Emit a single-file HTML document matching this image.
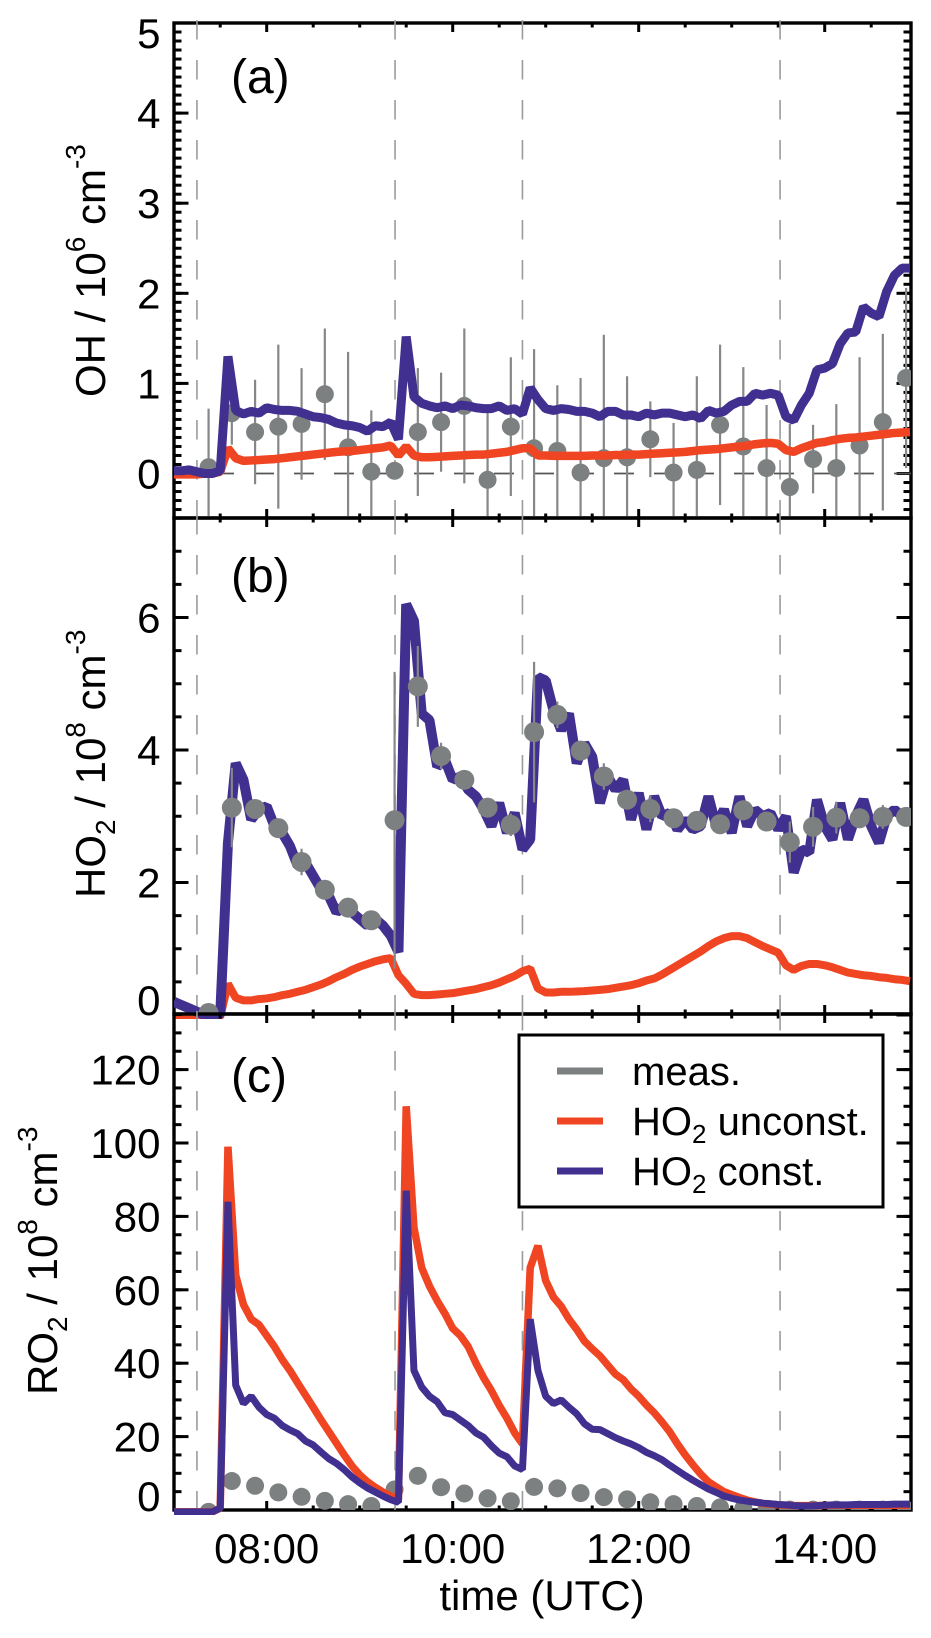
<!DOCTYPE html>
<html lang="en">
<head>
<meta charset="utf-8">
<title>OH, HO2 and RO2 time series</title>
<style>
html,body{margin:0;padding:0;background:#fff;}
svg{display:block;font-family:"Liberation Sans",Arial,sans-serif;}
</style>
</head>
<body>
<svg id="chart" xmlns="http://www.w3.org/2000/svg" width="931" height="1638" viewBox="0 0 931 1638">
  <rect x="0" y="0" width="931" height="1638" fill="#fff"/>
  <defs>
    <clipPath id="dots-a"><rect x="174" y="23" width="737" height="495"/></clipPath>
    <clipPath id="dots-b"><rect x="174" y="518" width="737" height="496"/></clipPath>
    <clipPath id="dots-c"><rect x="174" y="1014" width="737" height="496"/></clipPath>
    <clipPath id="lines-a"><rect x="174" y="23" width="737" height="495"/></clipPath>
    <clipPath id="lines-b"><rect x="174" y="518" width="737" height="501"/></clipPath>
    <clipPath id="lines-c"><rect x="174" y="1014" width="737" height="501"/></clipPath>
  </defs>
  <g id="layer-a"></g>
  <g id="layer-b"></g>
  <g id="layer-c"></g>

  <text x="231" y="93" font-size="48">(a)</text>
  <text x="231" y="592" font-size="48">(b)</text>
  <text x="231" y="1092" font-size="48">(c)</text>

  <text transform="translate(105 397) rotate(-90)" font-size="42">OH / 10<tspan font-size="28" dy="-20">6</tspan><tspan dy="20"> cm</tspan><tspan font-size="28" dy="-20">-3</tspan></text>
  <text transform="translate(105 898) rotate(-90)" font-size="42">HO<tspan font-size="28" dy="10">2</tspan><tspan dy="-10"> / 10</tspan><tspan font-size="28" dy="-20">8</tspan><tspan dy="20"> cm</tspan><tspan font-size="28" dy="-20">-3</tspan></text>
  <text transform="translate(57 1395) rotate(-90)" font-size="42">RO<tspan font-size="28" dy="10">2</tspan><tspan dy="-10"> / 10</tspan><tspan font-size="28" dy="-20">8</tspan><tspan dy="20"> cm</tspan><tspan font-size="28" dy="-20">-3</tspan></text>

  <text x="542" y="1610" font-size="42" text-anchor="middle">time (UTC)</text>

  <g>
    <rect x="519" y="1035" width="364" height="172" fill="#fff" stroke="#000" stroke-width="3"/>
    <line x1="557" x2="603" y1="1071" y2="1071" stroke="#7d8080" stroke-width="7"/>
    <text x="632" y="1085" font-size="40">meas.</text>
    <line x1="557" x2="603" y1="1121" y2="1121" stroke="#f04523" stroke-width="7"/>
    <text x="632" y="1135" font-size="40">HO<tspan font-size="26" dy="8">2</tspan><tspan dy="-8"> unconst.</tspan></text>
    <line x1="557" x2="603" y1="1171" y2="1171" stroke="#41308f" stroke-width="7"/>
    <text x="632" y="1185" font-size="40">HO<tspan font-size="26" dy="8">2</tspan><tspan dy="-8"> const.</tspan></text>
  </g>
</svg>
<script>
// ---- data ----
const modelStartHour = 7;
const modelStepHours = 1 / 12;
const measStartHour = 7.375;
const measStepHours = 0.25;
const flightLegHours = [7.25, 9.38, 10.75, 13.52];
const xTickHours = [8, 10, 12, 14];
const xTickLabels = ["08:00", "10:00", "12:00", "14:00"];
const xMinorHours = [7.5, 8, 8.5, 9, 9.5, 10, 10.5, 11, 11.5, 12, 12.5, 13, 13.5, 14, 14.5];

const aTickValues = [0, 1, 2, 3, 4, 5];
const bTickValues = [0, 2, 4, 6];
const cTickValues = [0, 20, 40, 60, 80, 100, 120];

const aMeas = [.07,.67,.46,.52,.55,.88,.29,.02,.03,.46,.57,.75,-.07,.52,.28,.25,.01,.17,.18,.38,.01,.04,.54,.30,.06,-.15,.16,.06,.31,.57,1.06];
const aErr = [.65,.35,.58,.91,.62,.73,1.06,.68,0,.71,.55,.86,.77,.77,1.1,.73,1.05,1.37,.9,.42,.55,1.04,.89,.88,.7,.7,.38,.71,.98,.98,1.0];
const bMeas = [.03,3.13,3.11,2.82,2.31,1.89,1.62,1.43,2.94,4.96,3.91,3.55,3.13,2.87,4.27,4.53,3.99,3.60,3.25,3.11,2.97,2.93,2.88,3.09,2.92,2.61,2.84,2.98,2.97,2.99,2.99];
const bErr = [.05,.6,.1,.1,.2,.1,.05,.1,2.24,.61,.2,.1,.1,.17,1.06,.2,.15,.2,.15,.2,.1,.12,.1,.15,.1,.31,.3,.24,.15,.18,.1];
const cMeas = [-.5,7.9,6.6,4.8,3.6,2.5,1.6,1.1,5.6,9.3,6.2,4.5,3.2,2.4,6.3,5.9,4.6,3.5,2.9,2.1,1.6,1.1,.7,.4,.2,.1,.1,.1,.1,.1,.1];

const aConst = [
  .03,.03,.04,.02,0,0,.03,1.3,.70,.66,.69,.67,
  .73,.71,.70,.70,.69,.66,.63,.62,.60,.56,.54,.53,
  .51,.47,.53,.52,.57,.38,1.52,.85,.78,.75,.73,.75,
  .72,.76,.75,.73,.72,.72,.75,.70,.72,.66,.95,.82,
  .72,.70,.72,.71,.69,.69,.67,.63,.69,.69,.65,.65,
  .63,.67,.65,.67,.67,.65,.63,.65,.61,.70,.67,.69,
  .76,.80,.80,.89,.87,.89,.87,.63,.59,.76,.89,1.15,
  1.17,1.22,1.44,1.56,1.57,1.85,1.78,1.74,2.02,2.20,2.28,2.28];
const aUnconst = [
  -.01,-.01,-.01,-.01,0,0,.02,.28,.17,.14,.145,.15,
  .155,.16,.17,.18,.19,.20,.21,.22,.23,.24,.245,.25,
  .26,.27,.28,.29,.31,.20,.30,.20,.18,.18,.185,.19,
  .195,.20,.205,.21,.21,.22,.23,.24,.26,.28,.28,.20,
  .20,.195,.195,.195,.195,.195,.20,.20,.20,.205,.205,.21,
  .21,.215,.22,.225,.23,.235,.24,.25,.26,.265,.27,.28,
  .29,.30,.31,.325,.335,.34,.33,.26,.24,.28,.31,.34,
  .35,.37,.385,.395,.40,.41,.42,.43,.44,.45,.455,.46];
const bConst = [
  .2,.15,.10,.05,0,0,0,2.6,3.8,3.55,2.95,3.1,
  3.15,2.85,2.75,2.55,2.25,2.3,2.1,1.9,1.8,1.55,1.65,1.55,
  1.45,1.35,1.45,1.35,1.2,.95,6.2,5.95,4.55,4.45,3.75,3.85,
  3.55,3.6,3.4,3.3,3.1,2.85,3.2,2.75,3.05,2.5,2.65,5.1,
  5.05,4.6,4.3,4.55,3.8,4.1,3.9,3.2,3.6,3.4,3.55,2.95,
  3.35,2.8,3.3,3.0,3.05,2.8,2.95,2.8,2.85,3.3,2.85,3.1,
  2.75,3.3,2.85,3.1,3.0,3.05,2.8,3.0,2.15,2.5,2.45,3.25,
  2.85,2.65,3.2,2.65,3.0,3.25,2.85,2.6,3.0,3.1,3.0,3.0];
const bUnconst = [
  -.03,-.03,-.03,-.03,-.03,-.03,-.03,.47,.26,.22,.22,.24,
  .25,.27,.30,.32,.35,.38,.42,.46,.51,.57,.62,.68,
  .73,.77,.81,.84,.86,.60,.47,.32,.30,.30,.31,.32,
  .33,.35,.37,.39,.42,.45,.49,.54,.59,.66,.70,.40,
  .34,.34,.35,.35,.355,.36,.37,.38,.39,.41,.43,.45,
  .48,.52,.55,.61,.68,.75,.82,.89,.96,1.04,1.11,1.16,
  1.19,1.19,1.16,1.10,1.04,.99,.94,.75,.68,.74,.77,.77,
  .75,.72,.68,.64,.62,.60,.59,.57,.56,.54,.53,.51];
const cUnconst = [
  -.5,-.5,-.5,-.5,-.5,-.5,.5,99,64,56,52,50.5,
  47.5,44.5,41,38,34.6,31.3,28,24.6,21.4,18.2,15,12,
  9.6,7.7,6.2,4.9,3.8,3,110,77,66,61,57,53.5,
  49.5,47.5,44.5,40,36,32.5,28.5,25,21,18,66,72,
  62.5,58,55.5,52,49.2,46,43.9,42,39.5,37,35.5,33,
  31,28.6,26.5,24,21.3,18,15,12.3,9.8,7.7,6.3,5,
  4.2,3.4,2.7,2.2,1.8,1.6,1.4,1.3,1.2,1.2,1.2,1.2,
  1.3,1.3,1.3,1.3,1.3,1.3,1.3,1.3,1.3,1.3,1.3,1.3];
const cConst = [
  -.5,-.5,-.5,-.5,-.5,-.5,.5,84,34,29,31,28,
  26,25,23,21.8,20.8,18.8,17.7,15.8,14,12.7,11,9,
  7.4,6,4.9,3.8,2.8,2.1,87,38,33.5,31,29.5,26.5,
  26,24.5,23,21,19.8,17.5,15.5,14.5,12,11,52,38,
  31,29,30,28,26.2,23.5,22,21.9,20.8,19.7,18.8,18,
  17,15.7,14.8,13.7,12.2,10.8,9.4,8.1,6.9,5.7,4.8,3.8,
  3.2,2.7,2.4,2.1,1.9,1.7,1.5,1.4,1.2,1.1,1.1,1.2,
  1.3,1.4,1.4,1.4,1.5,1.5,1.5,1.5,1.5,1.6,1.6,1.6];

// ---- axis functions ----
const NS = "http://www.w3.org/2000/svg";
const LEFT = 174, RIGHT = 911;
const BLUE = "#41308f", ORANGE = "#f04523", GRAY = "#7d8080";
function xScale(h) { return 266.7 + (h - 8) * 93; }
function yScaleA(v) { return 473.5 - v * 90.1; }
function yScaleB(v) { return 1015 - v * 66.25; }
function yScaleC(v) { return 1510 - v * 3.67; }
function modelHour(i) { return modelStartHour + i * modelStepHours; }
function measHour(i) { return measStartHour + i * measStepHours; }

function mk(parent, tag, attrs) {
  const el = document.createElementNS(NS, tag);
  for (const k in attrs) el.setAttribute(k, attrs[k]);
  parent.appendChild(el);
  return el;
}

function drawTickLine(g, x1, y1, x2, y2, w, name) {
  const el = mk(g, "line", { x1: x1, y1: y1, x2: x2, y2: y2, stroke: "#000", "stroke-width": w });
  
  
}

// Labels at the ends of an axis are pulled inside the panel so they do not collide with the next one.
function drawFrame(g, top, bottom, yFn, majors, minorStart, minorEnd, minorStep, prefix) {
  for (let n = 0; minorStart + n * minorStep <= minorEnd + 1e-6; n++) {
    const yy = yFn(minorStart + n * minorStep);
    if (yy < top || yy > bottom) continue;
    drawTickLine(g, LEFT, yy, LEFT + 7.5, yy, 3, prefix + "-y-minor-tick");
    drawTickLine(g, RIGHT, yy, RIGHT - 7.5, yy, 3, prefix + "-y-minor-tick-right");
  }
  majors.forEach(function (v) {
    const yy = yFn(v);
    drawTickLine(g, LEFT, yy, LEFT + 14.5, yy, 3, prefix + "-y-major-tick");
    drawTickLine(g, RIGHT, yy, RIGHT - 14.5, yy, 3, prefix + "-y-major-tick-right");
    const baseline = Math.min(Math.max(yy + 15, top + 25), bottom + 1);
    const label = mk(g, "text", { x: 160.5, y: baseline, "font-size": 42, "text-anchor": "end" });
    
    
    label.textContent = String(v);
  });
  xMinorHours.forEach(function (h) {
    const isMajor = xTickHours.indexOf(h) >= 0;
    const len = isMajor ? 9 : 4.5;
    const xx = xScale(h);
    drawTickLine(g, xx, top, xx, top + len, 3, prefix + "-x-tick-top");
    drawTickLine(g, xx, bottom, xx, bottom - len, 3, prefix + "-x-tick-bottom");
  });
  const frame = mk(g, "rect", { x: LEFT, y: top, width: RIGHT - LEFT, height: bottom - top, fill: "none", stroke: "#000", "stroke-width": 3.4 });
  
  
}

function drawLegLines(g, top, bottom, prefix) {
  flightLegHours.forEach(function (h) {
    const l = mk(g, "line", { x1: xScale(h), x2: xScale(h), y1: top - 3, y2: bottom, stroke: "#9a9c9c", "stroke-width": 1.6, "stroke-dasharray": "19.5 20.5" });
    
    
  });
}

function drawMeasurements(g, values, errors, yFn, radius, clipId, showBars, prefix) {
  const grp = mk(g, "g", { "clip-path": "url(#" + clipId + ")" });
  
  
  if (showBars) {
    values.forEach(function (v, i) {
      if (!errors[i]) return;
      const xx = xScale(measHour(i));
      const bar = mk(grp, "line", { x1: xx, x2: xx, y1: yFn(v - errors[i]), y2: yFn(v + errors[i]), stroke: "#858888", "stroke-width": 2.2 });
      
      
    });
  }
  values.forEach(function (v, i) {
    const dot = mk(grp, "circle", { cx: xScale(measHour(i)), cy: yFn(v), r: radius, fill: GRAY });
    
    
  });
}

function drawSeries(g, values, yFn, color, width, clipId, name) {
  const d = values.map(function (v, i) {
    return (i ? "L" : "M") + xScale(modelHour(i)).toFixed(2) + " " + yFn(v).toFixed(2);
  }).join(" ");
  const p = mk(g, "path", { d: d, fill: "none", stroke: color, "stroke-width": width, "stroke-linejoin": "bevel", "clip-path": "url(#" + clipId + ")" });
  
  
}

function drawXLabels(g) {
  xTickHours.forEach(function (h, i) {
    const t = mk(g, "text", { x: xScale(h), y: 1563, "font-size": 42, "text-anchor": "middle" });
    
    
    t.textContent = xTickLabels[i];
  });
}

// ---- panel a ----
const ga = document.getElementById("layer-a");
drawFrame(ga, 23, 518, yScaleA, aTickValues, -0.4, 5, 0.1, "oh");
drawLegLines(ga, 23, 518, "oh");
const zeroLine = mk(ga, "line", { x1: LEFT, x2: RIGHT, y1: yScaleA(0), y2: yScaleA(0), stroke: "#555", "stroke-width": 1.8, "stroke-dasharray": "20 20" });


drawMeasurements(ga, aMeas, aErr, yScaleA, 9, "dots-a", true, "oh");
drawSeries(ga, aUnconst, yScaleA, ORANGE, 8.5, "lines-a", "oh-unconstrained-line");
drawSeries(ga, aConst, yScaleA, BLUE, 9, "lines-a", "oh-constrained-line");

// ---- panel b ----
const gb = document.getElementById("layer-b");
drawFrame(gb, 518, 1014, yScaleB, bTickValues, 0, 7.5, 0.5, "ho2");
drawLegLines(gb, 518, 1014, "ho2");
drawSeries(gb, bUnconst, yScaleB, ORANGE, 8, "lines-b", "ho2-unconstrained-line");
drawSeries(gb, bConst, yScaleB, BLUE, 10, "lines-b", "ho2-constrained-line");
drawMeasurements(gb, bMeas, bErr, yScaleB, 10, "dots-b", true, "ho2");

// ---- panel c ----
const gc = document.getElementById("layer-c");
drawFrame(gc, 1014, 1510, yScaleC, cTickValues, 0, 135, 5, "ro2");
drawLegLines(gc, 1014, 1510, "ro2");
drawMeasurements(gc, cMeas, null, yScaleC, 9, "dots-c", false, "ro2");
drawSeries(gc, cUnconst, yScaleC, ORANGE, 7.5, "lines-c", "ro2-unconstrained-line");
drawSeries(gc, cConst, yScaleC, BLUE, 7, "lines-c", "ro2-constrained-line");
drawXLabels(gc);
</script>
</body>
</html>
